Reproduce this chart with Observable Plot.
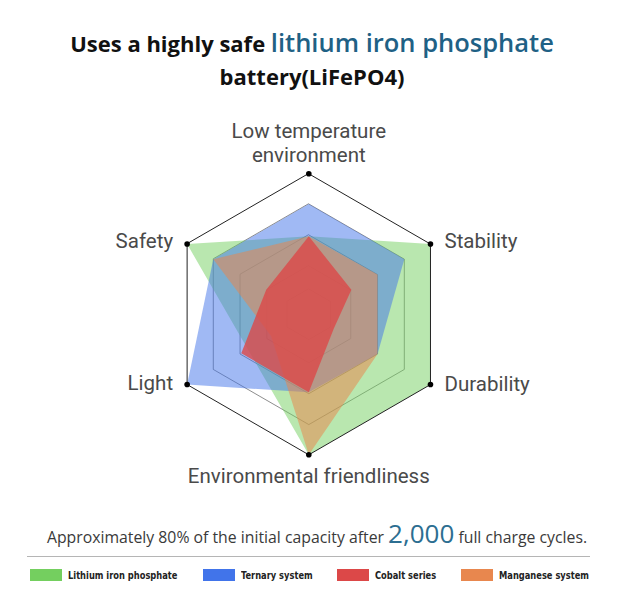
<!DOCTYPE html>
<html>
<head>
<meta charset="utf-8">
<script src="https://cdn.jsdelivr.net/npm/d3@7"></script>
<script src="https://cdn.jsdelivr.net/npm/@observablehq/plot@0.6"></script>
<style>
  body { margin: 0; background: #fff; }
  #wrap { position: relative; width: 624px; height: 603px; overflow: hidden; font-family: "Open Sans", sans-serif; }
  #title { position: absolute; top: 26px; left: 0; width: 624px; text-align: center; font-weight: 700; font-size: 22px; line-height: 33px; color: #111; white-space: nowrap; }
  #title .hl { color: #1f6185; font-weight: 600; font-size: 25.5px; }
  #title .l2 { font-size: 22px; }
  #chart { position: absolute; top: 100px; left: 0; }
  #caption { position: absolute; top: 515px; left: 5px; width: 624px; text-align: center; font-size: 15.8px; color: #3a3a3a; line-height: 36px; white-space: nowrap; }
  #caption .big { font-size: 26px; color: #2c6e91; }
  #rule { position: absolute; top: 556px; left: 27px; width: 563px; border-top: 1.5px solid #b5b5b5; }
  .sw { position: absolute; top: 569px; width: 32px; height: 12px; }
  .lt { position: absolute; top: 566px; font-family: "Liberation Sans Narrow", "DejaVu Sans Condensed", sans-serif; font-weight: 700; font-size: 10.5px; line-height: 18px; color: #222; white-space: nowrap; transform: scaleX(0.88); transform-origin: left center; }
</style>
</head>
<body>
<div id="wrap">
  <div id="title">Uses a highly safe <span class="hl">lithium iron phosphate</span><br><span class="l2">battery(LiFePO4)</span></div>
  <div id="chart"></div>
  <div id="caption">Approximately 80% of the initial capacity after <span class="big">2,000</span> full charge cycles.</div>
  <div id="rule"></div>
  <div id="legend"></div>
</div>
<script>
// ---- data ----
const axes = ["Low temperature\nenvironment", "Stability", "Durability", "Environmental friendliness", "Light", "Safety"];
const seriesNames = ["Lithium iron phosphate", "Ternary system", "Cobalt series", "Manganese system"];
const lithium   = [0.555, 1, 1, 1, 0.5, 1];
const ternary   = [0.785, 0.785, 0.565, 0.555, 1, 0.785];
const cobalt    = [0.555, 0.35, 0.205, 0.555, 0.555, 0.35];
const manganese = [0.555, 0.565, 0.565, 1, 0.31, 0.785];
const ringLevels = [0.18, 0.345, 0.565, 0.785, 1];
const seriesColors = ["#74cf5f", "#4174ea", "#dc4848", "#e8874e"];

// ---- build tables ----
const ang = i => i * Math.PI / 3;
const toPts = (vals, key) => vals.map((v, i) => ({key, x: v * Math.sin(ang(i)), y: v * Math.cos(ang(i))}));
const seriesVals = [lithium, ternary, cobalt, manganese];
const drawOrder = [0, 1, 3, 2];
const opac = [0.5, 0.5, 0.8, 0.53];

const rings = ringLevels.flatMap(l => axes.map((a, i) => ({level: l, x: l * Math.sin(ang(i)), y: l * Math.cos(ang(i))})));
const outer = axes.map((a, i) => ({name: a, i, x: Math.sin(ang(i)), y: Math.cos(ang(i))}));

const labelStyle = {fontSize: 20.5, fill: "#4a4a4a", fontFamily: "Roboto, sans-serif"};
// per-axis label placement: [textAnchor, lineAnchor, dx, dy]
const labelPlace = [
  ["middle", "bottom", 0, -12],
  ["start", "middle", 14, -4],
  ["start", "middle", 14, -1],
  ["middle", "top", 0, 11],
  ["end", "middle", -14, -2],
  ["end", "middle", -14, -4]
];
const labelMarks = outer.map(d => Plot.text([d], {
  x: "x", y: "y", text: "name",
  textAnchor: labelPlace[d.i][0], lineAnchor: labelPlace[d.i][1],
  dx: labelPlace[d.i][2], dy: labelPlace[d.i][3], lineHeight: 1.18, ...labelStyle
}));

const polyMarks = drawOrder.map(k => Plot.line(toPts(seriesVals[k], seriesNames[k]), {
  x: "x", y: "y", curve: "linear-closed", fill: seriesColors[k], fillOpacity: opac[k], stroke: "none"
}));

const plot = Plot.plot({
  width: 624, height: 400,
  margin: 0,
  x: {domain: [-1, 1], range: [308.3 - 140.5, 308.3 + 140.5], axis: null},
  y: {domain: [-1, 1], range: [213.8 + 140.5, 213.8 - 140.5], axis: null},
  marks: [
    Plot.line(rings.filter(d => d.level < 1), {x: "x", y: "y", z: "level", curve: "linear-closed", stroke: "#555", strokeWidth: 0.9, strokeOpacity: 0.75}),
    ...polyMarks,
    Plot.line(rings.filter(d => d.level === 1), {x: "x", y: "y", z: "level", curve: "linear-closed", stroke: "#222", strokeWidth: 1}),
    Plot.dot(outer, {x: "x", y: "y", r: 2.8, fill: "#000"}),
    ...labelMarks
  ]
});
document.getElementById("chart").appendChild(plot);

// ---- legend ----
const legendX = [30, 203, 337, 461];
const legend = document.getElementById("legend");
seriesNames.forEach((n, k) => {
  const sw = document.createElement("div");
  sw.className = "sw";
  sw.style.left = legendX[k] + "px";
  sw.style.background = seriesColors[k];
  legend.appendChild(sw);
  const t = document.createElement("div");
  t.className = "lt";
  t.style.left = (legendX[k] + 38) + "px";
  t.textContent = n;
  legend.appendChild(t);
});
</script>
</body>
</html>
